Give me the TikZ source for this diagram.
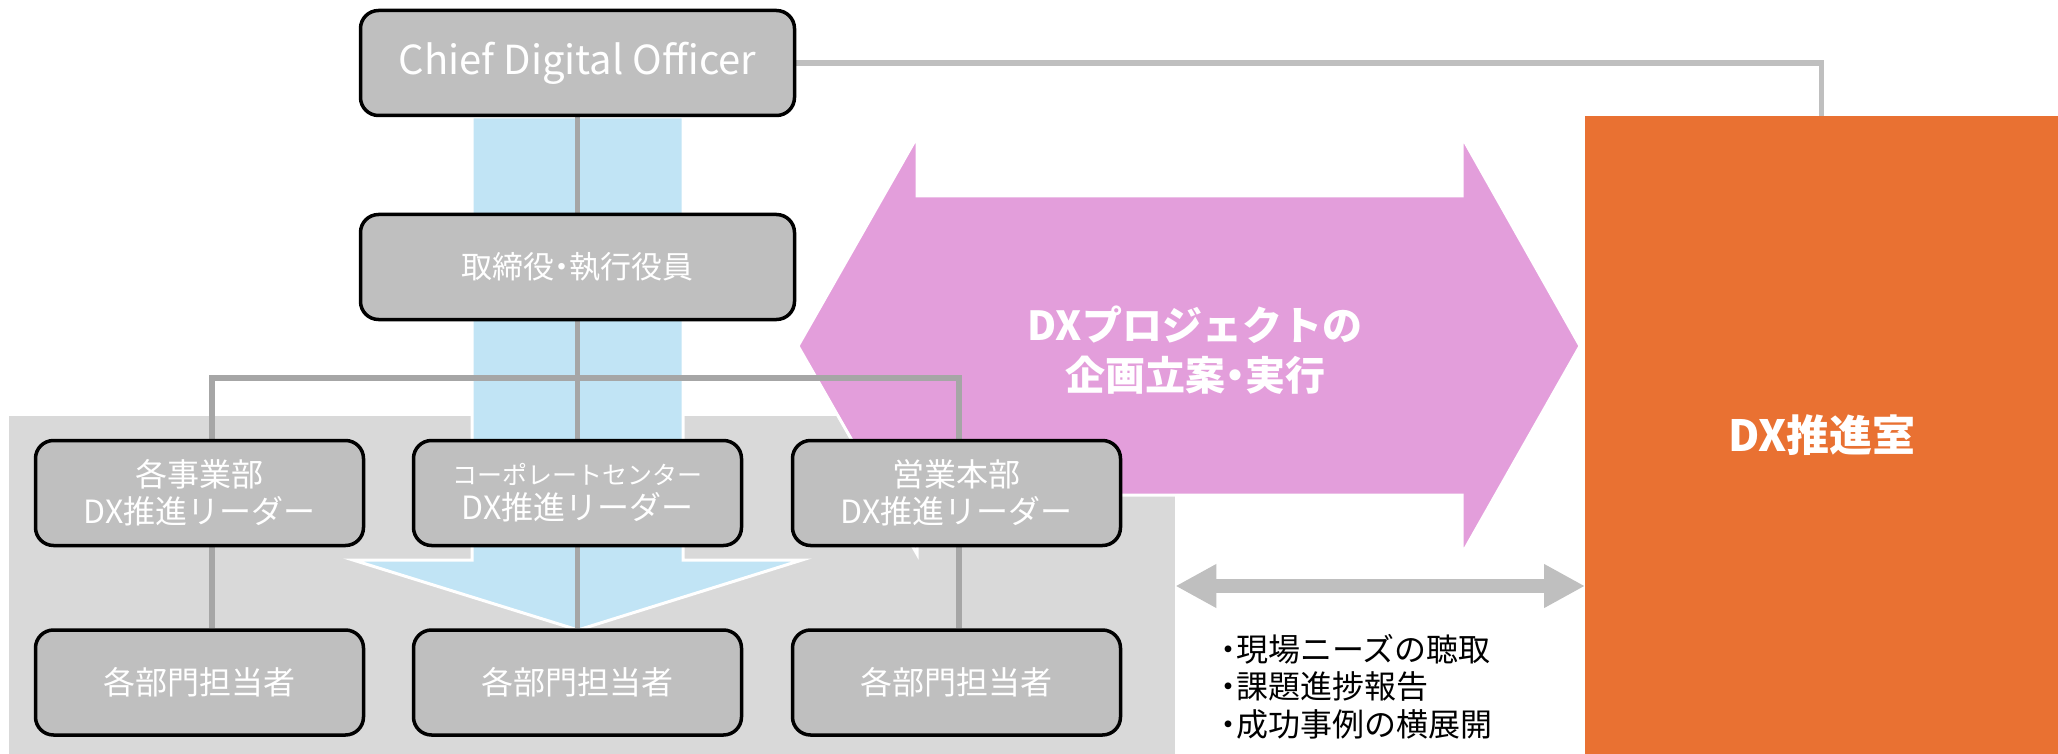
\documentclass[tikz,border=0pt]{standalone}
\usepackage{fontspec}
\setmainfont{Noto Sans CJK JP}
\newfontfamily\paltfont[RawFeature=+palt]{Noto Sans CJK JP}
\newcommand{\pdot}{{\paltfont ・}}
\usetikzlibrary{arrows.meta}
\pgfdeclarelayer{backlayer}
\pgfdeclarelayer{linklayer}
\pgfsetlayers{backlayer,linklayer,main}
\definecolor{boxgray}{HTML}{BFBFBF}
\definecolor{linegray}{HTML}{A6A6A6}
\definecolor{bggray}{HTML}{D9D9D9}
\definecolor{skyblue}{HTML}{C1E4F5}
\definecolor{pinkarrow}{HTML}{E39EDB}
\definecolor{dxorange}{HTML}{E97132}
\begin{document}
\begin{tikzpicture}[x=1pt,y=-1pt,
  orgbox/.style={draw=black, line width=3.5pt, fill=boxgray, rounded corners=18pt,
    text=white, inner sep=0pt, align=center},
  bigbox/.style={orgbox, minimum width=434pt, minimum height=105pt},
  unitbox/.style={orgbox, minimum width=328pt, minimum height=105pt},
  link/.style={draw=linegray, line width=5.5pt},
  toplink/.style={draw=boxgray, line width=5.5pt},
  darrow/.style={draw=boxgray, line width=14pt,
    arrows={Triangle[length=41pt,width=41pt]-Triangle[length=41pt,width=41pt]}},
  unitfont/.style={font=\fontsize{32}{37}\selectfont}
]
\useasboundingbox (0,0) rectangle (2058,754);

% boxes
\node[bigbox, font=\fontsize{40}{46}\selectfont] (cdo) at (577.5,63) {Chief Digital Officer};
\node[bigbox, font=\fontsize{31}{36}\selectfont] (exec) at (577.5,267) {取締役\pdot 執行役員};
\node[unitbox, unitfont] (l1) at (199.5,493) {各事業部\\DX推進リーダー};
\node[unitbox, font=\fontsize{25}{35}\selectfont] (m1) at (577.5,493)
  {コーポレートセンター\\{\fontsize{32}{37}\selectfont DX推進リーダー}};
\node[unitbox, unitfont] (r1) at (956.5,493) {営業本部\\DX推進リーダー};
\node[unitbox, unitfont] (l2) at (199.5,682.5) {各部門担当者};
\node[unitbox, unitfont] (m2) at (577.5,682.5) {各部門担当者};
\node[unitbox, unitfont] (r2) at (956.5,682.5) {各部門担当者};

\coordinate (hL) at (212,378);
\coordinate (hR) at (959,378);
\coordinate (ay) at (0,586);

\begin{pgfonlayer}{backlayer}
  % gray background panel
  \node[fill=bggray, anchor=north west, minimum width=1166pt, minimum height=338pt, inner sep=0pt] (bg) at (9,416) {};
  % blue downward arrow
  \fill[skyblue, draw=white, line width=3pt]
    (472,117) -- (683,117) -- (683,560) -- (802,560) -- (578,630) -- (353,560) -- (472,560) -- cycle;
  % pink double-headed arrow
  \fill[pinkarrow, draw=white, line width=3pt]
    (798,346) -- (917,137) -- (917,196) -- (1462,196) -- (1462,137) -- (1580,346)
    -- (1462,554) -- (1462,495) -- (917,495) -- (917,554) -- cycle;
  % orange DX office
  \node[fill=dxorange, anchor=north west, minimum width=473pt, minimum height=638pt, inner sep=0pt,
    text=white, font=\bfseries\fontsize{43}{50}\selectfont] (dx) at (1585,116) {DX推進室};
\end{pgfonlayer}

\node[text=white, align=center, font=\bfseries\fontsize{40}{50}\selectfont] (ptext) at (1195,350)
  {DXプロジェクトの\\企画立案\pdot 実行};

\begin{pgfonlayer}{linklayer}
  \draw[toplink] (cdo.east) -| (dx.north);
  \draw[link] (cdo.south) -- (exec.north);
  \draw[link] (exec.south) -- (m1.north);
  \draw[link] (hL |- l1.north) -- (hL) -- (hR) -- (hR |- r1.north);
  \draw[link] (hL |- l1.south) -- (hL |- l2.north);
  \draw[link] (m1.south) -- (m2.north);
  \draw[link] (hR |- r1.south) -- (hR |- r2.north);
\end{pgfonlayer}

% two-way arrow and notes
\draw[darrow] (bg.east |- ay) -- (dx.west |- ay);
\node[anchor=north west, inner sep=0pt, align=left, text=black,
  font=\fontsize{32}{37.5}\selectfont] (notes) at (1220,634)
  {\pdot 現場ニーズの聴取\\\pdot 課題進捗報告\\\pdot 成功事例の横展開};
\end{tikzpicture}
\end{document}
